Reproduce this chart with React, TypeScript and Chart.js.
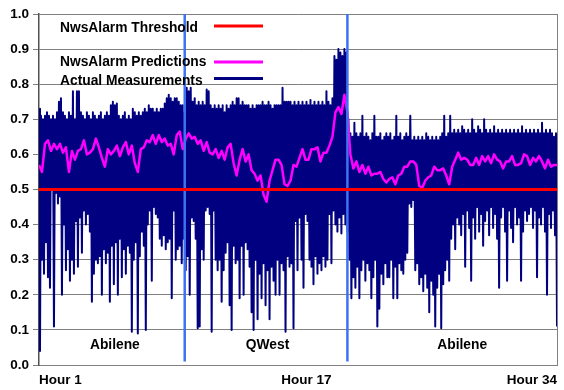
import React, { useEffect, useRef } from 'react';
import { Chart, registerables } from 'chart.js';

Chart.register(...registerables);

// Actual measurements, one sample per time step (0..519)
const actualMeasurements = [
  0.73,0.04,0.71,0.30,0.70,0.26,0.71,0.35,0.72,0.25,
  0.71,0.22,0.70,0.50,0.71,0.11,0.70,0.49,0.72,0.46,
  0.75,0.48,0.76,0.20,0.72,0.40,0.71,0.27,0.70,0.33,
  0.72,0.24,0.71,0.30,0.78,0.26,0.70,0.41,0.78,0.28,
  0.78,0.42,0.72,0.32,0.71,0.44,0.70,0.40,0.72,0.43,
  0.71,0.38,0.70,0.18,0.72,0.26,0.71,0.30,0.70,0.29,
  0.71,0.31,0.72,0.20,0.70,0.33,0.71,0.29,0.72,0.32,
  0.71,0.18,0.74,0.34,0.75,0.23,0.74,0.35,0.745,0.20,
  0.71,0.36,0.70,0.25,0.71,0.33,0.72,0.26,0.70,0.34,
  0.71,0.32,0.70,0.095,0.73,0.30,0.72,0.35,0.71,0.09,
  0.72,0.31,0.71,0.38,0.72,0.34,0.73,0.10,0.72,0.40,
  0.74,0.44,0.73,0.24,0.73,0.45,0.72,0.43,0.73,0.42,
  0.72,0.36,0.73,0.34,0.73,0.37,0.745,0.33,0.76,0.35,
  0.77,0.36,0.76,0.19,0.75,0.44,0.76,0.30,0.76,0.33,
  0.75,0.34,0.74,0.29,0.74,0.36,0.72,0.27,0.79,0.31,
  0.78,0.20,0.79,0.42,0.75,0.41,0.76,0.36,0.74,0.105,
  0.75,0.11,0.74,0.33,0.75,0.30,0.74,0.44,0.785,0.45,
  0.78,0.43,0.74,0.095,0.73,0.44,0.74,0.30,0.73,0.27,
  0.74,0.30,0.73,0.18,0.74,0.27,0.72,0.32,0.74,0.35,
  0.73,0.17,0.74,0.10,0.75,0.34,0.74,0.29,0.76,0.30,
  0.76,0.19,0.74,0.34,0.75,0.20,0.74,0.35,0.74,0.33,
  0.74,0.28,0.73,0.15,0.74,0.10,0.73,0.30,0.74,0.13,
  0.74,0.26,0.74,0.19,0.75,0.29,0.74,0.17,0.74,0.27,
  0.75,0.13,0.74,0.28,0.73,0.24,0.74,0.20,0.74,0.30,
  0.74,0.20,0.74,0.29,0.79,0.27,0.75,0.095,0.75,0.31,
  0.75,0.28,0.75,0.29,0.74,0.105,0.75,0.41,0.74,0.27,
  0.75,0.42,0.74,0.30,0.75,0.22,0.74,0.43,0.75,0.41,
  0.74,0.30,0.755,0.28,0.74,0.23,0.75,0.31,0.74,0.26,
  0.75,0.29,0.74,0.27,0.75,0.31,0.74,0.28,0.78,0.30,
  0.75,0.43,0.74,0.29,0.76,0.44,0.88,0.40,0.87,0.38,
  0.90,0.42,0.89,0.375,0.88,0.43,0.90,0.40,0.89,0.38,
  0.70,0.30,0.66,0.19,0.65,0.25,0.69,0.22,0.66,0.28,
  0.65,0.19,0.66,0.27,0.71,0.30,0.65,0.24,0.66,0.29,
  0.65,0.27,0.64,0.19,0.66,0.25,0.71,0.30,0.65,0.11,
  0.65,0.16,0.66,0.26,0.64,0.23,0.65,0.29,0.66,0.25,
  0.65,0.25,0.66,0.30,0.64,0.19,0.65,0.28,0.71,0.19,
  0.65,0.29,0.66,0.27,0.64,0.26,0.65,0.30,0.66,0.32,
  0.65,0.46,0.71,0.45,0.64,0.47,0.65,0.27,0.64,0.29,
  0.65,0.23,0.64,0.25,0.65,0.21,0.64,0.26,0.66,0.22,
  0.65,0.15,0.64,0.24,0.65,0.20,0.64,0.11,0.65,0.22,
  0.64,0.26,0.65,0.105,0.66,0.23,0.71,0.27,0.65,0.30,
  0.66,0.24,0.71,0.36,0.66,0.40,0.67,0.33,0.66,0.42,
  0.67,0.40,0.66,0.37,0.68,0.43,0.67,0.28,0.66,0.44,
  0.67,0.39,0.66,0.24,0.70,0.42,0.67,0.36,0.66,0.45,
  0.68,0.38,0.67,0.43,0.66,0.34,0.70,0.41,0.67,0.44,
  0.66,0.37,0.67,0.45,0.66,0.39,0.68,0.43,0.66,0.36,
  0.67,0.22,0.66,0.42,0.67,0.45,0.66,0.38,0.67,0.24,
  0.66,0.44,0.67,0.39,0.66,0.35,0.67,0.45,0.66,0.40,
  0.67,0.42,0.66,0.24,0.68,0.38,0.66,0.44,0.67,0.41,
  0.66,0.43,0.67,0.45,0.66,0.39,0.67,0.44,0.66,0.25,
  0.67,0.42,0.66,0.40,0.69,0.45,0.66,0.38,0.67,0.20,
  0.66,0.43,0.67,0.39,0.66,0.44,0.65,0.37,0.66,0.11,
];

// NwsAlarm predictions, one sample every PRED_STEP time steps
const PRED_STEP = 3;
const nwsAlarmPredictions = [
  0.57,0.55,0.63,0.64,0.61,0.63,0.615,0.63,0.605,0.62,
  0.55,0.61,0.585,0.61,0.615,0.64,0.60,0.605,0.615,0.645,
  0.62,0.59,0.565,0.615,0.60,0.61,0.625,0.595,0.62,0.635,
  0.60,0.625,0.575,0.55,0.615,0.62,0.64,0.635,0.655,0.63,
  0.655,0.635,0.645,0.625,0.63,0.60,0.655,0.665,0.615,0.645,
  0.66,0.645,0.65,0.63,0.64,0.61,0.635,0.605,0.60,0.615,
  0.59,0.61,0.585,0.62,0.63,0.575,0.54,0.585,0.615,0.58,
  0.60,0.555,0.545,0.525,0.54,0.485,0.465,0.525,0.555,0.585,
  0.585,0.57,0.515,0.51,0.525,0.57,0.565,0.59,0.615,0.585,
  0.585,0.615,0.615,0.62,0.58,0.605,0.605,0.625,0.65,0.72,
  0.735,0.715,0.77,0.72,0.60,0.56,0.58,0.55,0.57,0.545,
  0.565,0.54,0.545,0.545,0.55,0.53,0.52,0.53,0.535,0.515,
  0.54,0.545,0.565,0.565,0.58,0.58,0.57,0.51,0.505,0.525,
  0.535,0.54,0.565,0.555,0.555,0.56,0.54,0.515,0.565,0.585,
  0.605,0.585,0.59,0.585,0.57,0.57,0.59,0.57,0.595,0.58,
  0.595,0.575,0.60,0.585,0.58,0.56,0.58,0.58,0.595,0.57,
  0.57,0.575,0.60,0.595,0.57,0.59,0.58,0.595,0.58,0.56,
  0.585,0.565,0.57,0.57,
];

const threshold = 0.5;
const yMin = 0;
const yMax = 1;
const yStep = 0.1;

const xTickLabels = ['Hour 1', 'Hour 17', 'Hour 34'];
const xTickValues = [0, 268, 519];

const regionBoundaries = [146, 309];
const regionNames = ['Abilene', 'QWest', 'Abilene'];
const regionLabelValues = [76, 229, 424];
const regionLabelLevel = 0.045;

const legendLabels = ['NwsAlarm Threshold', 'NwsAlarm Predictions', 'Actual Measurements'];

const NAVY = '#000080';
const MAGENTA = '#ff00ff';
const RED = '#ff0000';
const BLUE = '#3f72f2';
const FONT = '"Liberation Sans", Arial, Helvetica, sans-serif';

const overlayPlugin = {
  id: 'overlay',
  afterDatasetsDraw(chart: any) {
    const { ctx, chartArea, scales } = chart;
    ctx.save();
    // right frame border
    ctx.strokeStyle = '#808080';
    ctx.lineWidth = 1;
    ctx.beginPath();
    ctx.moveTo(Math.round(chartArea.right) + 0.5, chartArea.top);
    ctx.lineTo(Math.round(chartArea.right) + 0.5, chartArea.bottom);
    ctx.stroke();

    // region labels
    ctx.font = `bold 13.8px ${FONT}`;
    ctx.fillStyle = '#000';
    ctx.textAlign = 'center';
    ctx.textBaseline = 'alphabetic';
    regionNames.forEach((name, i) => {
      ctx.fillText(
        name,
        scales.x.getPixelForValue(regionLabelValues[i]),
        scales.y.getPixelForValue(regionLabelLevel)
      );
    });

    // legend
    const colors = [RED, MAGENTA, NAVY];
    const textBase = [32, 66, 85];
    const lineY = [26, 62, 78.5];
    const textX = chartArea.left + 21;
    const lineX0 = chartArea.left + 175;
    const lineX1 = chartArea.left + 224;
    ctx.textAlign = 'left';
    legendLabels.forEach((label, i) => {
      ctx.fillStyle = '#000';
      ctx.fillText(label, textX, textBase[i]);
      ctx.strokeStyle = colors[i];
      ctx.lineWidth = 3;
      ctx.beginPath();
      ctx.moveTo(lineX0, lineY[i]);
      ctx.lineTo(lineX1, lineY[i]);
      ctx.stroke();
    });
    ctx.restore();
  },
};

export default function App() {
  const canvasRef = useRef<HTMLCanvasElement | null>(null);

  useEffect(() => {
    if (!canvasRef.current) return;
    const measData = actualMeasurements.map((v, i) => ({ x: i, y: v }));
    const predData = nwsAlarmPredictions.map((v, i) => ({ x: i * PRED_STEP, y: v }));
    const lastX = actualMeasurements.length - 1;
    const thresholdData = [
      { x: 0, y: threshold },
      { x: lastX, y: threshold },
    ];
    const boundaryDatasets = regionBoundaries.map((b) => ({
      label: 'boundary',
      data: [
        { x: b, y: yMax },
        { x: b, y: 0.01 },
      ],
      borderColor: BLUE,
      borderWidth: 2.5,
      pointRadius: 0,
      order: 1,
    }));

    const chart = new Chart(canvasRef.current, {
      type: 'line',
      data: {
        datasets: [
          {
            label: legendLabels[0],
            data: thresholdData,
            borderColor: RED,
            borderWidth: 3,
            pointRadius: 0,
            order: 0,
          },
          ...boundaryDatasets,
          {
            label: legendLabels[1],
            data: predData,
            borderColor: MAGENTA,
            borderWidth: 2.5,
            pointRadius: 0,
            borderJoinStyle: 'round',
            order: 2,
          },
          {
            label: legendLabels[2],
            data: measData,
            borderColor: NAVY,
            borderWidth: 2,
            pointRadius: 0,
            borderJoinStyle: 'round',
            order: 3,
          },
        ] as any,
      },
      options: {
        responsive: false,
        animation: false,
        events: [],
        layout: { padding: { top: 14, right: 5, left: 0, bottom: 0 } },
        plugins: {
          legend: { display: false },
          tooltip: { enabled: false },
        },
        scales: {
          x: {
            type: 'linear',
            min: 0,
            max: lastX,
            grid: { display: false, drawTicks: false },
            border: { display: true, color: '#808080', width: 1 },
            afterFit: (s: any) => {
              s.height = 25;
            },
            afterBuildTicks: (s: any) => {
              s.ticks = xTickValues.map((v) => ({ value: v }));
            },
            ticks: {
              align: 'inner',
              autoSkip: false,
              maxRotation: 0,
              padding: 7,
              color: '#000',
              font: { family: FONT, size: 13.5, weight: 'bold' },
              callback: (v: any) => {
                const idx = xTickValues.indexOf(Number(v));
                return idx >= 0 ? xTickLabels[idx] : '';
              },
            },
          },
          y: {
            type: 'linear',
            min: yMin,
            max: yMax,
            grid: { color: '#808080', lineWidth: 1, tickLength: 6, drawTicks: true },
            border: { display: true, color: '#505050', width: 1.5 },
            afterFit: (s: any) => {
              s.width = 39;
            },
            ticks: {
              stepSize: yStep,
              padding: 4,
              color: '#000',
              font: { family: FONT, size: 13.5, weight: 'bold' },
              callback: (v: any) => Number(v).toFixed(1),
            },
          },
        },
      } as any,
      plugins: [overlayPlugin],
    });
    return () => chart.destroy();
  }, []);

  return (
    <div style={{ position: 'fixed', left: 0, top: 0, width: 564, height: 390, background: '#fff' }}>
      <canvas ref={canvasRef} width={564} height={390} style={{ display: 'block' }} />
    </div>
  );
}
